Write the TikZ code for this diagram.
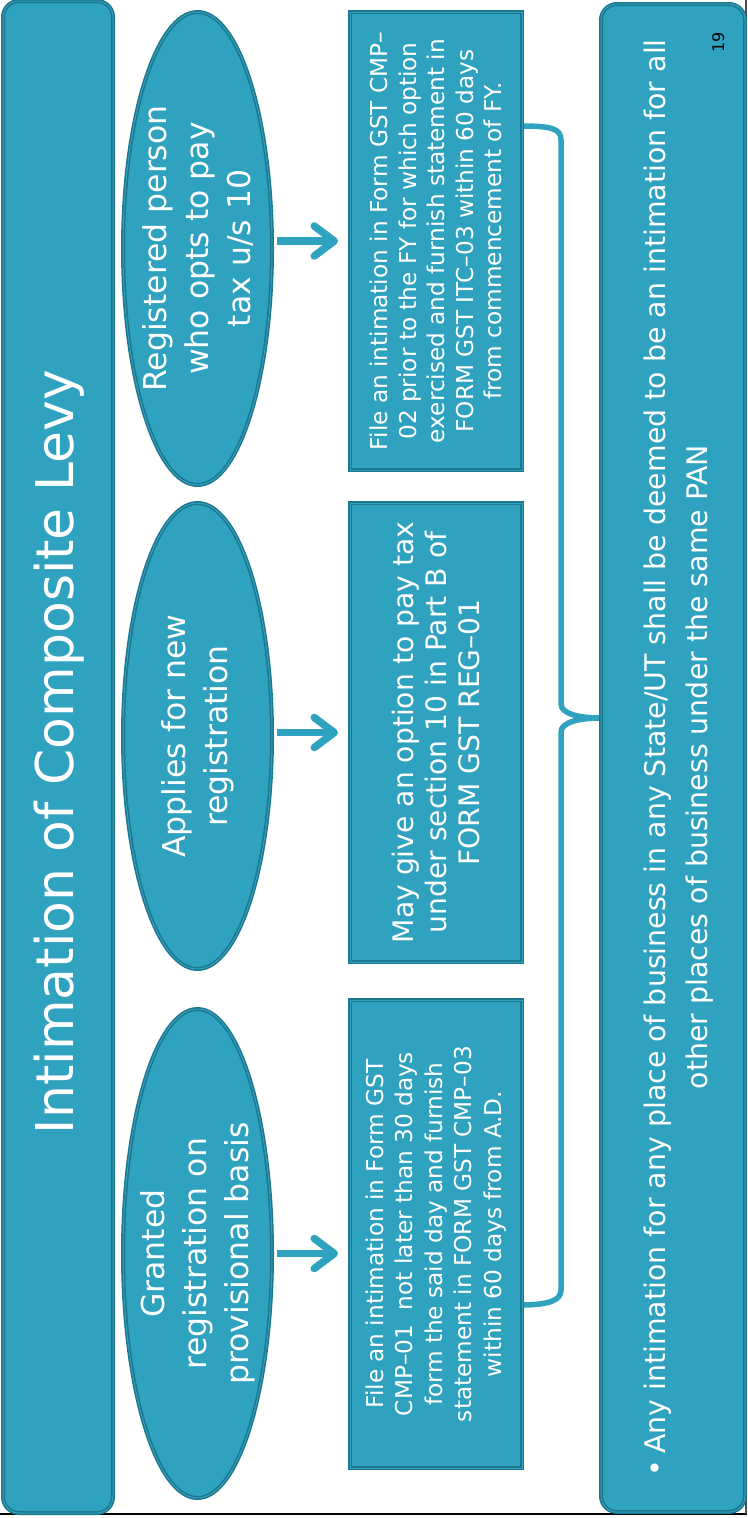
\documentclass[tikz,border=0pt]{standalone}
\usepackage{fontspec}
\setmainfont{DejaVu Sans}
\usetikzlibrary{shapes.geometric,arrows.meta}
\definecolor{fillc}{RGB}{46,162,191}
\definecolor{darkc}{RGB}{30,118,140}
\begin{document}
\begin{tikzpicture}[x=1pt,y=1pt,
  shapebox/.style={draw=darkc, line width=1.5pt, double=fillc, double distance=1pt, fill=fillc, inner sep=0pt, outer sep=0pt},
  ell/.style={shapebox, ellipse, minimum width=149pt},
  rbox/.style={shapebox, rectangle, minimum width=172pt},
  bigbox/.style={shapebox, rectangle, rounded corners=16pt},
  wtext/.style={text=white, rotate=90, align=center, inner sep=0pt},
  arr/.style={draw=fillc, line width=7.5pt, -{Straight Barb[length=20pt,width=30pt,round]}, shorten <=5pt, shorten >=12pt},
  bracepath/.style={draw=fillc, line width=5.5pt}
]
\useasboundingbox (0,0) rectangle (747,-1518);
\fill[white] (0,0) rectangle (747,-1518);

% slide edge lines
\draw[black, line width=2.2pt] (0,-1514) -- (747,-1514);
\draw[black!70, line width=1.5pt] (746.2,0) -- (746.2,-1514);

% brace (drawn first so rect borders cover its end)
\coordinate (b1) at (520,-126);
\coordinate (bm) at (600,-718);
\coordinate (b2) at (520,-1305);
\draw[bracepath] (b1) .. controls (550,-126) and (561,-128) .. (561,-140) -- (561,-704)
  .. controls (561,-714) and (580,-718) .. (bm)
  .. controls (580,-718) and (561,-722) .. (561,-732) -- (561,-1290)
  .. controls (561,-1300) and (550,-1305) .. (b2);

% title box
\node[bigbox, minimum width=110pt, minimum height=1512pt] (tbox) at (58,-757) {};
\node[wtext, font=\fontsize{52}{60}\selectfont, anchor=base] (ttext) at (73,-752) {Intimation of Composite Levy};

% ellipses
\node[ell, minimum height=473pt] (e1) at (197.5,-248.5) {};
\node[ell, minimum height=466pt] (e2) at (197.5,-736) {};
\node[ell, minimum height=489pt] (e3) at (197.5,-1253.5) {};
\node[wtext, font=\fontsize{31.5}{42}\selectfont] (t1) at (e1) {Registered person\\who opts to pay\\tax u/s 10};
\node[wtext, font=\fontsize{31.5}{42}\selectfont] (t2) at (e2) {Applies for new\\registration};
\node[wtext, font=\fontsize{31.5}{42}\selectfont] (t3) at (e3) {Granted\\registration on\\provisional basis};

% rectangles
\node[rbox, minimum height=458pt] (r1) at (436,-241) {};
\node[rbox, minimum height=459pt] (r2) at (436,-732.5) {};
\node[rbox, minimum height=468pt] (r3) at (436,-1234) {};
\node[wtext, font=\fontsize{23.2}{28.5}\selectfont] (s1) at (r1) {File an intimation in Form GST CMP–\\02 prior to the FY for which option\\exercised and furnish statement in\\FORM GST ITC–03 within 60 days\\from commencement of FY.};
\node[wtext, font=\fontsize{28.2}{33}\selectfont] (s2) at (r2) {May give an option to pay tax\\under section 10 in Part B of\\FORM GST REG–01};
\node[wtext, font=\fontsize{23.2}{29.5}\selectfont] (s3) at (r3) {File an intimation in Form GST\\CMP–01~ not later than 30 days\\form the said day and furnish\\statement in FORM GST CMP–03\\within 60 days from A.D.};

% arrows
\draw[arr] (e1.east |- r1.west) -- (r1.west);
\draw[arr] (e2.east |- r2.west) -- (r2.west);
\draw[arr] (e3.east) -- (e3.east -| r3.west);

% bottom box
\node[bigbox, minimum width=144pt, minimum height=1508pt] (bbox) at (673,-758) {};
\node[wtext, font=\fontsize{28.4}{45}\selectfont, anchor=base] (l1) at (665,-758) {•\hspace{6pt}Any intimation for any place of business in any State/UT shall be deemed to be an intimation for all};
\node[wtext, font=\fontsize{28.4}{45}\selectfont, anchor=base] (l2) at (707,-767) {other places of business under the same PAN};
\node[rotate=90, inner sep=0pt, font=\fontsize{16}{18}\selectfont, anchor=base, text=black] (pg) at (724,-42) {19};
\end{tikzpicture}
\end{document}
